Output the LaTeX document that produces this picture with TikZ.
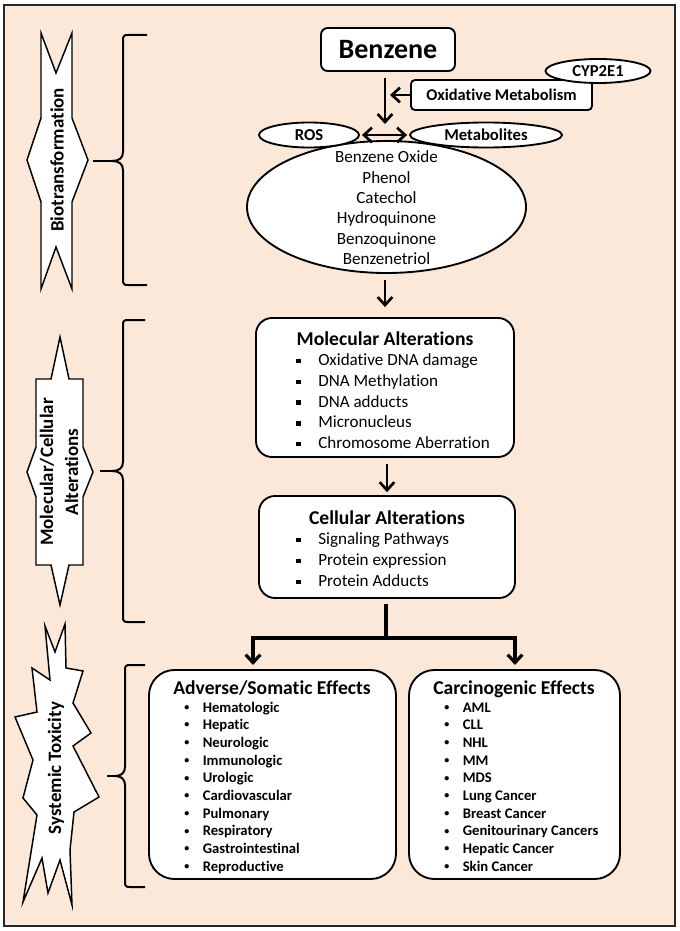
\documentclass[tikz,border=0pt]{standalone}
\usepackage{fontspec}
\setmainfont{Carlito}[Ligatures=NoCommon]
\usetikzlibrary{shapes.geometric,arrows.meta}
\definecolor{peach}{RGB}{252,232,217}
\newcommand\sqb{\makebox[16.5pt][l]{\rule[1.7pt]{3.4pt}{3.4pt}}}
\newcommand\rbul{\makebox[13.9pt][l]{\raisebox{1.3pt}{\fontsize{7.5}{8}\selectfont •}}}
\begin{document}
\begin{tikzpicture}[x=0.75pt,y=-0.75pt,
  box/.style={draw,fill=white,line width=1.4pt,rounded corners=#1,inner sep=0pt},
  box/.default=4pt,
  oval/.style={ellipse,draw,fill=white,line width=1.4pt,inner sep=0pt},
  lbl/.style={font=\fontsize{12.5}{14}\selectfont\bfseries},
  ttl/.style={anchor=base,inner sep=0pt,font=\fontsize{14.7}{17}\selectfont\bfseries},
  mitem/.style={anchor=base west,inner sep=0pt,font=\fontsize{12.8}{15}\selectfont},
  litem/.style={anchor=base west,inner sep=0pt,font=\fontsize{11}{13}\selectfont\bfseries},
  eitem/.style={anchor=base,inner sep=0pt,font=\fontsize{12.8}{15}\selectfont},
  side/.style={inner sep=0pt,font=\fontsize{14.2}{18.75}\selectfont\bfseries},
  sideshape/.style={draw,fill=white,line width=1.1pt,line join=miter},
  brace/.style={draw,line width=1.5pt},
  tip/.tip={Straight Barb[length=6pt,width=11pt]},
  arr/.style={line width=2pt,-tip},
  arrtwo/.style={line width=2pt,tip-tip}
]
\useasboundingbox (0,0) rectangle (680,931);
\draw[line width=1.5pt,draw=black!85,fill=peach] (4,5) rectangle (675,926);

% ---------- left side labels ----------
\draw[sideshape] (41,33) -- (56,73) -- (72,33) -- (72,118) -- (88,160) -- (72,202) -- (72,289) -- (56,247) -- (41,289) -- (41,202) -- (27,160) -- (41,118) -- cycle;
\node[side,rotate=90] (biol) at (57,160) {Biotransformation};

\draw[sideshape] (60,337) -- (69,379) -- (83,379) -- (83,447) -- (93,472) -- (83,497) -- (83,565) -- (69,565) -- (60,605) -- (51,565) -- (36,565) -- (36,497) -- (27,472) -- (36,447) -- (36,379) -- (51,379) -- cycle;
\node[side,rotate=90,align=center] (mcl) at (59,472) {Molecular/Cellular\\Alterations};

\draw[sideshape] (45,626) -- (55,652) -- (65,624) -- (66,668) -- (83,671) -- (73,703) -- (91,733) -- (73,746) -- (99,797) -- (74,812) -- (70,850) -- (72,905) -- (60,860) -- (48,893) -- (42,858) -- (23,902) -- (37,815) -- (23,798) -- (33,760) -- (15,717) -- (37,712) -- (32,668) -- (50,680) -- cycle;
\node[side,rotate=90] (sysl) at (56,768) {Systemic Toxicity};

% ---------- braces ----------
\draw[brace] (147,35) -- (128,35) .. controls (124,35) and (123,36) .. (123,40) -- (123,152) .. controls (123,158) and (119,161) .. (112,161) .. controls (119,161) and (123,164) .. (123,170) -- (123,280) .. controls (123,284) and (124,285) .. (128,285) -- (147,285);
\draw[brace] (93,161) -- (112,161);

\draw[brace] (145,320) -- (128,320) .. controls (124,320) and (123,321) .. (123,325) -- (123,462) .. controls (123,468) and (119,471) .. (112,471) .. controls (119,471) and (123,474) .. (123,480) -- (123,617) .. controls (123,621) and (124,622) .. (128,622) -- (145,622);
\draw[brace] (100,471) -- (112,471);

\draw[brace] (145,665) -- (130,665) .. controls (126,665) and (125,666) .. (125,670) -- (125,767) .. controls (125,773) and (121,776) .. (115,776) .. controls (121,776) and (125,779) .. (125,785) -- (125,882) .. controls (125,886) and (126,887) .. (130,887) -- (145,887);
\draw[brace] (107,776) -- (115,776);

% ---------- biotransformation ----------
\node[box=5pt,minimum width=100.5pt,minimum height=32.25pt,font=\fontsize{21}{25}\selectfont\bfseries] (benz) at (388,49.5) {Benzene};
\node[box=3pt,minimum width=135.75pt,minimum height=22.5pt,font=\fontsize{12.3}{14}\selectfont\bfseries] (oxm) at (501.5,95) {Oxidative Metabolism};
\node[oval,lbl,minimum width=78.75pt,minimum height=18pt] (cyp) at (598,71) {CYP2E1};

\node[oval,minimum width=209.25pt,minimum height=99pt] (big) at (386.5,207) {};
\node[oval,lbl,minimum width=75pt,minimum height=18.75pt] (ros) at (309,135) {ROS};
\node[oval,lbl,minimum width=114pt,minimum height=18.75pt] (met) at (486,135) {Metabolites};

\foreach \txt [count=\i] in {Benzene Oxide,Phenol,Catechol,Hydroquinone,Benzoquinone,Benzenetriol}
  \node[eitem] (e\i) at (386.5,{162.6+20.4*(\i-1)}) {\txt};

\coordinate (aone) at (385,124);
\coordinate (atwo) at (390,95);
\draw[arr,shorten <=4.5pt] (benz.south -| aone) -- (aone);
\draw[arr] (oxm.west) -- (atwo);
\draw[arrtwo,shorten <=1.5pt,shorten >=1.5pt] (ros.east) -- (met.west);

% ---------- molecular / cellular ----------
\node[box=12pt,minimum width=193.5pt,minimum height=104.25pt] (mol) at (385,387.5) {};
\node[ttl] (molt) at (385,345) {Molecular Alterations};
\foreach \txt [count=\i] in {Oxidative DNA damage,DNA Methylation,DNA adducts,Micronucleus,Chromosome Aberration}
  \node[mitem] (m\i) at (296,{365.6+20.75*(\i-1)}) {\sqb\txt};

\node[box=12pt,minimum width=192pt,minimum height=76.5pt] (cell) at (387,547) {};
\node[ttl] (cellt) at (387,524) {Cellular Alterations};
\foreach \txt [count=\i] in {Signaling Pathways,Protein expression,Protein Adducts}
  \node[mitem] (c\i) at (296,{544.6+21*(\i-1)}) {\sqb\txt};

\draw[arr,shorten <=4.9pt,shorten >=7.5pt] (big.south -| aone) -- (mol.north -| aone);
\draw[arr,shorten <=4.5pt,shorten >=2.2pt] (mol.south -| cell) -- (cell.north);

% ---------- systemic ----------
\node[box=19pt,minimum width=185.25pt,minimum height=156.75pt] (adv) at (272.5,774.5) {};
\node[ttl] (advt) at (272,694) {Adverse/Somatic Effects};
\foreach \txt [count=\i] in {Hematologic,Hepatic,Neurologic,Immunologic,Urologic,Cardiovascular,Pulmonary,Respiratory,Gastrointestinal,Reproductive}
  \node[litem] (a\i) at (184,{712+17.7*(\i-1)}) {\rbul\txt};

\node[box=19pt,minimum width=158.25pt,minimum height=156.75pt] (carc) at (514.5,774.5) {};
\node[ttl] (carct) at (514,694) {Carcinogenic Effects};
\foreach \txt [count=\i] in {AML,CLL,NHL,MM,MDS,Lung Cancer,Breast Cancer,Genitourinary Cancers,Hepatic Cancer,Skin Cancer}
  \node[litem] (k\i) at (444,{712+17.7*(\i-1)}) {\rbul\txt};

\coordinate (bmid) at (386,638);
\coordinate (bl) at (253,638);
\coordinate (br) at (515,638);
\coordinate (tl) at (253,665);
\coordinate (tr) at (515,665);
\draw[line width=2.8pt,shorten <=4pt] (cell.south -| bmid) -- (bmid);
\draw[line width=2.4pt,line join=miter,tip-tip] (tl) -- (bl) -- (br) -- (tr);
\end{tikzpicture}
\end{document}
